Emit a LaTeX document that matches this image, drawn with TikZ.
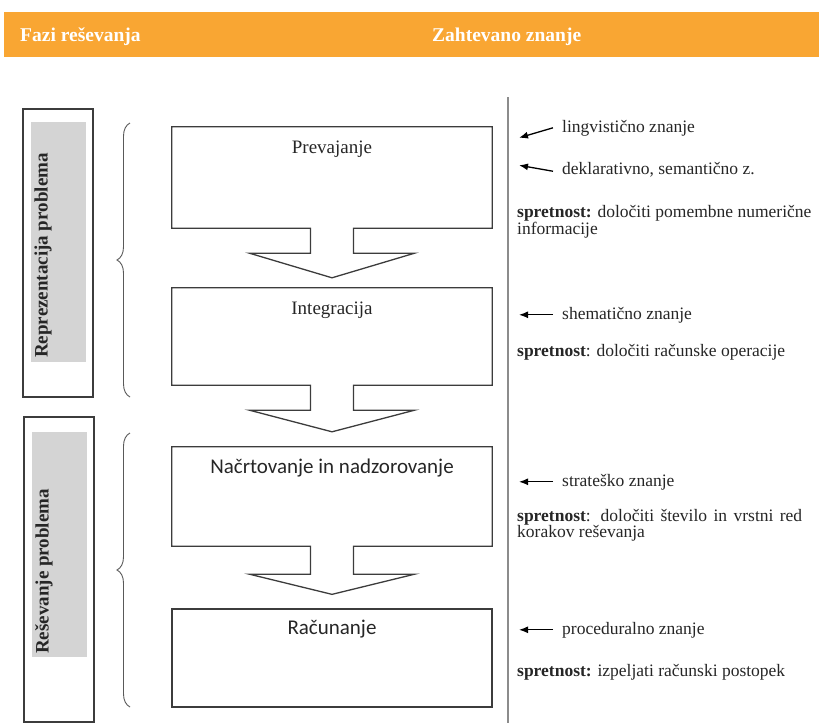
\documentclass[tikz,border=0pt]{standalone}
\usepackage{fontspec}
\setmainfont{Liberation Serif}
\newfontfamily\sansf{Carlito}
\usetikzlibrary{decorations.pathreplacing,calc,arrows.meta}
\definecolor{hdr}{RGB}{249,166,51}
\definecolor{lgray}{RGB}{212,212,212}
\definecolor{ln}{RGB}{60,60,60}
\definecolor{vl}{RGB}{140,140,140}
\newcommand\flowarrowbox[4]{% box, next box, shaft length, gap above next
  \draw[boxline] (#1.north west) -- (#1.north east) -- (#1.south east)
    -- ([xshift=21.5pt]#1.south) -- ([xshift=21.5pt,yshift=-#3pt]#1.south)
    -- ([xshift=82.5pt,yshift=-#3pt]#1.south) -- ([yshift=#4pt]#2.north)
    -- ([xshift=-82.5pt,yshift=-#3pt]#1.south) -- ([xshift=-21.5pt,yshift=-#3pt]#1.south)
    -- ([xshift=-21.5pt]#1.south) -- (#1.south west) -- cycle;}
\begin{document}
\begin{tikzpicture}[x=1pt,y=-1pt,
  boxline/.style={draw=ln,line width=1.3pt,line join=miter},
  mainbox/.style={draw=none,minimum width=320pt,inner sep=0pt},
  boxtxt/.style={font=\fontsize{19}{21}\selectfont,text=black!85,inner sep=0pt},
  sanstxt/.style={font=\sansf\fontsize{21}{23}\selectfont,text=black!85,inner sep=0pt},
  outerbox/.style={draw=ln,line width=1.2pt,inner sep=0pt,fill=white},
  graybox/.style={fill=lgray,draw=none,inner sep=0pt},
  rotlabel/.style={rotate=90,anchor=west,inner sep=0pt,font=\bfseries\fontsize{19}{21}\selectfont,text=black!85},
  bracestyle/.style={draw=black!65,line width=0.9pt,decorate,decoration={brace,amplitude=13pt}},
  hdrtxt/.style={anchor=base west,text=white,inner sep=0pt,font=\bfseries\fontsize{19.5}{21}\selectfont},
  ktxt/.style={anchor=base west,inner sep=0pt,font=\fontsize{17.5}{17}\selectfont,text=black!85},
  karrow/.style={-{Latex[length=9pt,width=7pt]},line width=1.3pt,black}]
\useasboundingbox (0,0) rectangle (819,723);
% header
\node[fill=hdr,minimum width=815pt,minimum height=45pt,inner sep=0pt,anchor=north west] (hdrbar) at (4,12) {};
\node[hdrtxt] (h1) at (20,41) {Fazi reševanja};
\node[hdrtxt] (h2) at (432,41) {Zahtevano znanje};
% left phase boxes
\node[outerbox,minimum width=70pt,minimum height=288pt] (o1) at (58,253) {};
\node[graybox,minimum width=55pt,minimum height=240pt] (g1) at (58.5,242) {};
\node[rotlabel] (l1) at (43,358) {Reprezentacija problema};
\node[outerbox,minimum width=70pt,minimum height=305pt] (o2) at (59,569.5) {};
\node[graybox,minimum width=55pt,minimum height=225pt] (g2) at (59.5,544.5) {};
\node[rotlabel] (l2) at (44,654) {Reševanje problema};
% braces
\coordinate (br1a) at (130,397); \coordinate (br1b) at (130,123);
\coordinate (br2a) at (130,707); \coordinate (br2b) at (130,433);
\draw[bracestyle] (br1a) -- (br1b);
\draw[bracestyle] (br2a) -- (br2b);
% main boxes
\node[mainbox,minimum height=101pt] (b1) at (332,177.5) {};
\node[mainbox,minimum height=97pt] (b2) at (332,336.5) {};
\node[mainbox,minimum height=99pt] (b3) at (332,496.5) {};
\node[mainbox,minimum height=98pt,draw=ln,line width=1.3pt] (b4) at (332,658) {};
\flowarrowbox{b1}{b2}{25}{10}
\flowarrowbox{b2}{b3}{25}{15}
\flowarrowbox{b3}{b4}{28}{14}
\node[boxtxt] (t1) at ([yshift=-22pt]b1.north) {Prevajanje};
\node[boxtxt] (t2) at ([yshift=-22pt]b2.north) {Integracija};
\node[sanstxt] (t3) at ([yshift=-21pt]b3.north) {Načrtovanje in nadzorovanje};
\node[sanstxt] (t4) at ([yshift=-21pt]b4.north) {Računanje};
% vertical separator
\coordinate (vt) at (508,97); \coordinate (vb) at (508,723);
\draw[vl,line width=1.6pt] (vt) -- (vb);
% right column
\node[ktxt] (k1) at (562,132) {lingvistično znanje};
\node[ktxt] (k2) at (562,174) {deklarativno, semantično z.};
\node[ktxt] (s1a) at (517,217) {\textbf{spretnost:} določiti pomembne numerične};
\node[ktxt] (s1b) at (517,234) {informacije};
\node[ktxt] (k3) at (562,319) {shematično znanje};
\node[ktxt] (s2) at (517,356) {\textbf{spretnost}: določiti računske operacije};
\node[ktxt] (k4) at (562,486) {strateško znanje};
\node[ktxt] (s3a) at (517,521) {\makebox[285pt][s]{\textbf{spretnost}: določiti število in vrstni red}};
\node[ktxt] (s3b) at (517,537) {korakov reševanja};
\node[ktxt] (k5) at (562,634) {proceduralno znanje};
\node[ktxt] (s4) at (517,676) {\textbf{spretnost:} izpeljati računski postopek};
\draw[karrow] ([xshift=-9pt]k1.west) -- ([xshift=-43pt,yshift=-10pt]k1.west);
\draw[karrow] ([xshift=-9pt,yshift=-2pt]k2.west) -- ([xshift=-43pt,yshift=4pt]k2.west);
\draw[karrow] ([xshift=-9pt]k3.west) -- ([xshift=-43pt]k3.west);
\draw[karrow] ([xshift=-9pt]k4.west) -- ([xshift=-43pt]k4.west);
\draw[karrow] ([xshift=-9pt]k5.west) -- ([xshift=-43pt]k5.west);
\end{tikzpicture}
\end{document}
